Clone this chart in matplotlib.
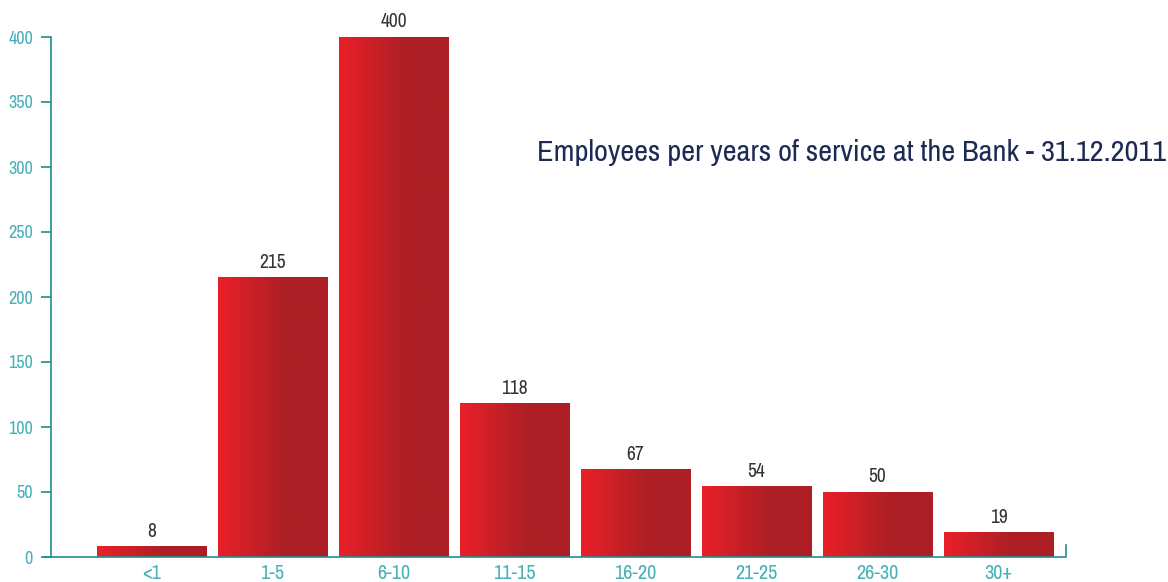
"""Employees per years of service at the Bank - bar chart with red gradient bars."""

import numpy as np
import matplotlib
matplotlib.use("Agg")
import matplotlib.pyplot as plt
from matplotlib.colors import to_rgb

categories = ["<1", "1-5", "6-10", "11-15", "16-20", "21-25", "26-30", "30+"]
employees = [8, 215, 400, 118, 67, 54, 50, 19]
y_ticks = [0, 50, 100, 150, 200, 250, 300, 350, 400]
title = "Employees per years of service at the Bank - 31.12.2011"

FONT = ["Archivo Narrow", "DejaVu Sans"]
plt.rcParams["font.family"] = FONT

AXIS = "#1f8f91"
TICKLBL = "#45b0b6"
RED_L = np.array(to_rgb("#ea2029"))
RED_R = np.array(to_rgb("#ad1f25"))

fig = plt.figure(figsize=(11.68, 5.82), dpi=100)
ax = fig.add_axes([51 / 1168, 25 / 582, (1066 - 51) / 1168, 520 / 582])

x = np.arange(len(categories))
width = 109 / 121

# gradient image: bright red on the left, darker red from the middle on
t = np.clip(np.linspace(0, 1, 200) / 0.6, 0, 1)
grad = RED_L[None, :] * (1 - t[:, None]) + RED_R[None, :] * t[:, None]
grad = grad[None, :, :]

for xi, v in zip(x, employees):
    ax.imshow(grad, extent=[xi - width / 2, xi + width / 2, 0, v],
              aspect="auto", interpolation="bilinear", zorder=2)
    ax.annotate(str(v), (xi, v), xytext=(0, 4), textcoords="offset points",
                ha="center", va="bottom", fontsize=14, color="#333333")

ax.set_xlim(-0.83, 7.558)
ax.set_ylim(0, 400)

ax.set_xticks(x)
ax.set_xticklabels(categories)
ax.set_yticks(y_ticks)
ax.tick_params(axis="x", length=0, pad=5, labelsize=14.5, labelcolor=TICKLBL)
ax.tick_params(axis="y", length=7, width=1.2, color=AXIS, pad=6,
               labelsize=13, labelcolor=TICKLBL)

for s in ["top", "right", "bottom"]:
    ax.spines[s].set_visible(False)
ax.spines["left"].set_color(AXIS)
ax.spines["left"].set_linewidth(1.2)

# baseline extending under the y ticks, with a small end tick on the right
ext = 7 / 1015
ax.plot([-ext, 1, 1], [0, 0, 12 / 520], transform=ax.transAxes,
        color=AXIS, lw=1.2, clip_on=False, zorder=3)

fig.text(1166 / 1168, 1 - 152 / 582, title, ha="right", va="center",
         fontsize=21.9, color="#1c2a55")

fig.savefig("out.png", dpi=100)
